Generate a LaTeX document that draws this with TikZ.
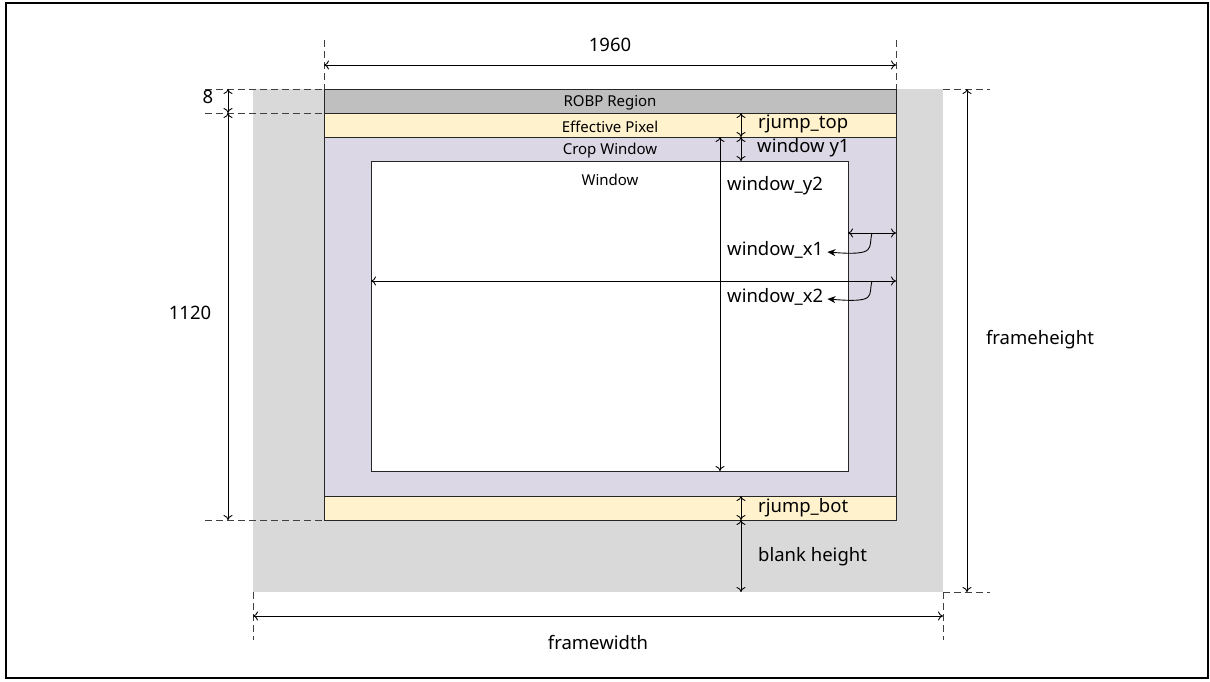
\documentclass[tikz,border=0pt]{standalone}
\usepackage{fontspec}
\setmainfont{Noto Sans}
\usetikzlibrary{arrows.meta}
\definecolor{robp}{HTML}{BFBFBF}
\definecolor{eff}{HTML}{FFF2CC}
\definecolor{crop}{HTML}{DCD7E5}
\definecolor{frame}{HTML}{D9D9D9}
\definecolor{dashc}{HTML}{404040}
\tikzset{
  dim/.style={line width=0.9pt, {To[length=5pt,width=9pt]}-{To[length=5pt,width=9pt]}},
  ext/.style={line width=0.9pt, dashc, dash pattern=on 7pt off 4pt},
  box/.style={draw=black!85, line width=0.9pt},
  big/.style={inner sep=0pt, font=\fontsize{18.5}{18.5}\selectfont},
  small/.style={inner sep=0pt, font=\fontsize{15}{15}\selectfont},
  curv/.style={line width=0.9pt, -{Stealth[length=8pt,width=7pt]}}
}
\begin{document}
\begin{tikzpicture}[x=1pt,y=-1pt]
\useasboundingbox (0,0) rectangle (1210,681);
% outer border
\draw[line width=2pt] (6,3) rectangle (1208,678);
% frame
\fill[frame] (253,89) rectangle (943,592);
% sensor regions
\filldraw[box, fill=robp] (324,89) rectangle (896,113);
\filldraw[box, fill=eff] (324,113) rectangle (896,137);
\filldraw[box, fill=crop] (324,137) rectangle (896,496);
\filldraw[box, fill=eff] (324,496) rectangle (896,520);
\filldraw[box, fill=white] (371,161) rectangle (848,471);
% region labels
\node[small] (lrobp) at (610,103) {ROBP Region};
\node[small] (leff) at (610,127) {Effective Pixel};
\node[small] (lcrop) at (610,151) {Crop Window};
\node[small] (lwin) at (610,180) {Window};
% coordinates
\coordinate (t1) at (324,40); \coordinate (t1b) at (324,89);
\coordinate (t2) at (896,40); \coordinate (t2b) at (896,89);
\coordinate (d1l) at (324,65); \coordinate (d1r) at (896,65);
\coordinate (l1) at (205,89); \coordinate (l1b) at (324,89);
\coordinate (l2) at (205,113); \coordinate (l2b) at (324,113);
\coordinate (l3) at (205,520); \coordinate (l3b) at (324,520);
\coordinate (la) at (228,89); \coordinate (lb) at (228,113); \coordinate (lc) at (228,520);
\coordinate (r1) at (943,89); \coordinate (r1b) at (990,89);
\coordinate (r2) at (943,592); \coordinate (r2b) at (990,592);
\coordinate (ra) at (967,89); \coordinate (rb) at (967,592);
\coordinate (b1) at (253,592); \coordinate (b1b) at (253,640);
\coordinate (b2) at (943,592); \coordinate (b2b) at (943,640);
\coordinate (ba) at (253,616); \coordinate (bb) at (943,616);
\coordinate (v1) at (741,113); \coordinate (v2) at (741,137); \coordinate (v3) at (741,161);
\coordinate (v4) at (741,496); \coordinate (v5) at (741,520); \coordinate (v6) at (741,592);
\coordinate (y2a) at (720,137); \coordinate (y2b) at (720,471);
\coordinate (x1a) at (848,233); \coordinate (x1b) at (896,233);
\coordinate (x2a) at (371,281); \coordinate (x2b) at (896,281);
\coordinate (c1) at (872,233); \coordinate (c2) at (872,281);
% extension lines
\draw[ext] (t1) -- (t1b);
\draw[ext] (t2) -- (t2b);
\draw[ext] (l1) -- (l1b);
\draw[ext] (l2) -- (l2b);
\draw[ext] (l3) -- (l3b);
\draw[ext] (r1) -- (r1b);
\draw[ext] (r2) -- (r2b);
\draw[ext] (b1) -- (b1b);
\draw[ext] (b2) -- (b2b);
% dimension lines
\draw[dim] (d1l) -- (d1r);
\draw[dim] (la) -- (lb);
\draw[dim] (lb) -- (lc);
\draw[dim] (ra) -- (rb);
\draw[dim] (ba) -- (bb);
\draw[dim] (v1) -- (v2);
\draw[dim] (v2) -- (v3);
\draw[dim] (v4) -- (v5);
\draw[dim] (v5) -- (v6);
\draw[dim] (y2a) -- (y2b);
\draw[dim] (x1a) -- (x1b);
\draw[dim] (x2a) -- (x2b);
% labels
\node[big] (n1960) at (610,45) {1960};
\node[big] (n8) at (208,97) {8};
\node[big] (n1120) at (190,313) {1120};
\node[big] (nfh) at (1040,340) {frameheight};
\node[big] (nfw) at (598,643) {framewidth};
\node[big, anchor=west] (nrt) at (758,124) {rjump\_top};
\node[big, anchor=west] (nwy1) at (757,148) {window y1};
\node[big, anchor=west] (nwy2) at (727,186) {window\_y2};
\node[big, anchor=west] (nwx1) at (727,250) {window\_x1};
\node[big, anchor=west] (nwx2) at (727,297) {window\_x2};
\node[big, anchor=west] (nrb) at (758,508) {rjump\_bot};
\node[big, anchor=west] (nbh) at (758,557) {blank height};
% curved pointers
\draw[curv] (c1) .. controls (868,248) and (878,256) .. ([xshift=4pt,yshift=-2pt]nwx1.east);
\draw[curv] (c2) .. controls (868,296) and (878,303) .. ([xshift=4pt,yshift=-2pt]nwx2.east);
\end{tikzpicture}
\end{document}
